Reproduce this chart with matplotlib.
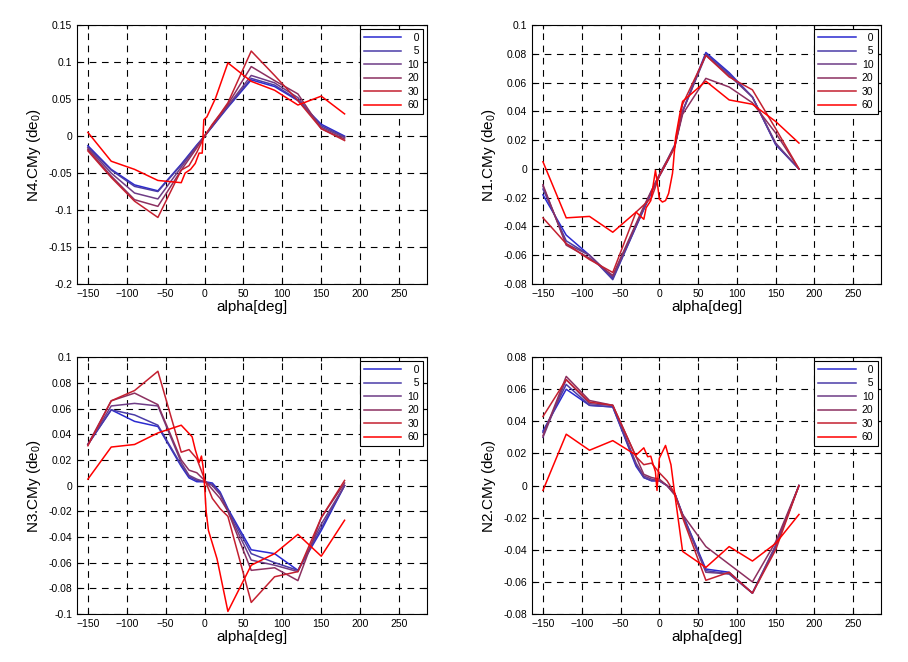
import numpy as np
import matplotlib
matplotlib.use('Agg')
import matplotlib.pyplot as plt
from matplotlib.ticker import FuncFormatter, MultipleLocator

plt.rcParams['font.family'] = ['Liberation Sans', 'DejaVu Sans']

# wind speeds in the legend
speeds = ['0', '5', '10', '20', '30', '60']
colors = ['#2a2ad0', '#4a3ca8', '#6e3c86', '#8c3060', '#c42030', '#ff0000']

# alpha grid of the smooth series (0..30)
alpha = [-150, -120, -90, -60, -30, -20, -10, 0, 10, 20, 30, 60, 90, 120, 150, 180]

# N4 (top left)
n4_0 = [-0.013, -0.045, -0.066, -0.074, -0.038, -0.025, -0.012, 0.0, 0.013, 0.026, 0.039, 0.076, 0.067, 0.048, 0.016, 0.0]
n4_5 = [-0.015, -0.046, -0.068, -0.075, -0.039, -0.026, -0.013, 0.0, 0.013, 0.027, 0.040, 0.078, 0.069, 0.049, 0.014, -0.001]
n4_10 = [-0.016, -0.050, -0.077, -0.085, -0.042, -0.028, -0.014, 0.0, 0.014, 0.028, 0.041, 0.082, 0.072, 0.052, 0.012, -0.002]
n4_20 = [-0.018, -0.054, -0.086, -0.095, -0.046, -0.031, -0.016, 0.0, 0.015, 0.029, 0.043, 0.094, 0.075, 0.057, 0.010, -0.004]
n4_30 = [-0.020, -0.056, -0.088, -0.110, -0.046, -0.040, -0.022, 0.0, 0.016, 0.030, 0.045, 0.115, 0.082, 0.048, 0.010, -0.006]
n4_60_x = [-150, -120, -90, -60, -30, -25, -18, -12, -7, -3, -1, 3, 10, 14, 30, 60, 90, 120, 150, 180]
n4_60 = [0.005, -0.034, -0.045, -0.060, -0.063, -0.050, -0.045, -0.037, -0.023, -0.023, 0.022, 0.026, 0.042, 0.051, 0.099, 0.074, 0.062, 0.042, 0.054, 0.030]

# N1 (top right)
n1_0 = [-0.018, -0.046, -0.060, -0.076, -0.040, -0.028, -0.016, -0.005, 0.005, 0.016, 0.040, 0.081, 0.067, 0.050, 0.017, 0.0]
n1_5 = [-0.014, -0.050, -0.060, -0.077, -0.040, -0.028, -0.016, -0.005, 0.005, 0.016, 0.040, 0.080, 0.066, 0.050, 0.017, 0.0]
n1_10 = [-0.012, -0.052, -0.060, -0.075, -0.039, -0.027, -0.015, -0.004, 0.006, 0.017, 0.040, 0.079, 0.065, 0.050, 0.018, 0.0]
n1_20 = [-0.011, -0.053, -0.062, -0.074, -0.038, -0.026, -0.015, -0.004, 0.006, 0.016, 0.038, 0.063, 0.057, 0.046, 0.025, 0.0]
n1_30 = [-0.034, -0.052, -0.063, -0.072, -0.030, -0.025, -0.020, -0.005, 0.005, 0.015, 0.045, 0.079, 0.064, 0.055, 0.028, 0.0]
n1_60_x = [-150, -120, -90, -60, -30, -20, -17, -11, -5, -2, 0, 4, 8, 12, 17, 21, 27, 30, 60, 90, 120, 150, 180]
n1_60 = [0.005, -0.034, -0.033, -0.044, -0.030, -0.035, -0.027, -0.022, -0.001, -0.012, -0.021, -0.023, -0.022, -0.017, -0.003, 0.022, 0.040, 0.047, 0.061, 0.048, 0.045, 0.033, 0.018]

# N3 (bottom left)
n3_0 = [0.032, 0.059, 0.050, 0.046, 0.015, 0.006, 0.003, 0.003, 0.002, -0.005, -0.018, -0.050, -0.053, -0.066, -0.035, 0.0]
n3_5 = [0.032, 0.059, 0.055, 0.047, 0.016, 0.007, 0.004, 0.003, 0.001, -0.006, -0.019, -0.053, -0.060, -0.066, -0.033, 0.0]
n3_10 = [0.032, 0.062, 0.064, 0.062, 0.018, 0.008, 0.005, 0.003, 0.0, -0.007, -0.020, -0.058, -0.062, -0.067, -0.030, 0.0]
n3_20 = [0.032, 0.066, 0.072, 0.063, 0.020, 0.012, 0.010, 0.004, -0.003, -0.010, -0.020, -0.066, -0.064, -0.074, -0.025, 0.002]
n3_30 = [0.031, 0.066, 0.074, 0.089, 0.026, 0.028, 0.021, 0.005, -0.010, -0.018, -0.024, -0.091, -0.071, -0.067, -0.025, 0.004]
n3_60_x = [-150, -120, -90, -60, -30, -16, -12, -7, -4, -2, 0, 2, 5, 16, 30, 60, 90, 120, 150, 180]
n3_60 = [0.005, 0.030, 0.032, 0.041, 0.047, 0.038, 0.028, 0.018, 0.023, 0.015, 0.0, -0.020, -0.035, -0.057, -0.098, -0.062, -0.053, -0.038, -0.055, -0.027]

# N2 (bottom right)
n2_0 = [0.034, 0.060, 0.050, 0.049, 0.012, 0.005, 0.003, 0.003, 0.0, -0.005, -0.018, -0.052, -0.054, -0.067, -0.038, 0.0]
n2_5 = [0.033, 0.063, 0.050, 0.049, 0.013, 0.005, 0.003, 0.003, 0.0, -0.005, -0.018, -0.053, -0.055, -0.067, -0.038, 0.0]
n2_10 = [0.030, 0.066, 0.051, 0.050, 0.014, 0.006, 0.004, 0.003, 0.0, -0.005, -0.019, -0.054, -0.055, -0.067, -0.037, 0.0]
n2_20 = [0.031, 0.068, 0.053, 0.050, 0.018, 0.007, 0.005, 0.004, 0.0, -0.006, -0.018, -0.038, -0.049, -0.060, -0.035, 0.0]
n2_30 = [0.043, 0.066, 0.052, 0.050, 0.018, 0.013, 0.014, 0.008, 0.003, -0.005, -0.020, -0.059, -0.054, -0.067, -0.040, 0.0]
n2_60_x = [-150, -120, -90, -60, -30, -20, -15, -11, -9, -5, -3, 0, 8, 15, 19, 30, 60, 90, 120, 150, 180]
n2_60 = [-0.003, 0.032, 0.022, 0.028, 0.019, 0.0235, 0.018, 0.0183, 0.0148, 0.0086, -0.003, 0.017, 0.025, 0.013, -0.002, -0.041, -0.051, -0.038, -0.047, -0.036, -0.018]

panels = [
    ('N4', [n4_0, n4_5, n4_10, n4_20, n4_30], n4_60_x, n4_60, (-0.2, 0.15), 0.05, [0.0848, 0.571, 0.3855, 0.391]),
    ('N1', [n1_0, n1_5, n1_10, n1_20, n1_30], n1_60_x, n1_60, (-0.08, 0.1), 0.02, [0.586, 0.571, 0.3845, 0.391]),
    ('N3', [n3_0, n3_5, n3_10, n3_20, n3_30], n3_60_x, n3_60, (-0.1, 0.1), 0.02, [0.0848, 0.0725, 0.3855, 0.388]),
    ('N2', [n2_0, n2_5, n2_10, n2_20, n2_30], n2_60_x, n2_60, (-0.08, 0.08), 0.02, [0.586, 0.0725, 0.3845, 0.388]),
]

fmt = FuncFormatter(lambda v, p: '%g' % round(v, 6) if abs(v) > 1e-9 else '0')

fig = plt.figure(figsize=(9.08, 6.62), dpi=100)

for name, series, x60, y60, ylim, ystep, pos in panels:
    ax = fig.add_axes(pos)
    for i, s in enumerate(series):
        ax.plot(alpha, s, color=colors[i], lw=1.1, label=speeds[i].rjust(2, '\u2007'))
    ax.plot(x60, y60, color=colors[5], lw=1.1, label=speeds[5])
    ax.set_xlim(-164, 286)
    ax.set_ylim(*ylim)
    ax.xaxis.set_major_locator(MultipleLocator(50))
    ax.yaxis.set_major_locator(MultipleLocator(ystep))
    ax.yaxis.set_major_formatter(fmt)
    ax.grid(True, color='black', lw=0.8, linestyle=(0, (6, 5)))
    ax.tick_params(direction='in', top=True, right=True, labelsize=7.5, length=3)
    for sp in ax.spines.values():
        sp.set_linewidth(0.8)
    ax.set_xlabel('alpha[deg]', fontsize=11, labelpad=1)
    ax.set_ylabel(name + '.CMy (de$_{\\mathregular{0}}$)', fontsize=11, labelpad=4)
    leg = ax.legend(loc='upper right', fontsize=7.5, frameon=True, fancybox=False,
                    edgecolor='black', framealpha=1, handlelength=3.6,
                    borderaxespad=0.35, labelspacing=0.33, handletextpad=0.6)
    leg.get_frame().set_linewidth(0.8)

fig.savefig('out.png', dpi=100)
